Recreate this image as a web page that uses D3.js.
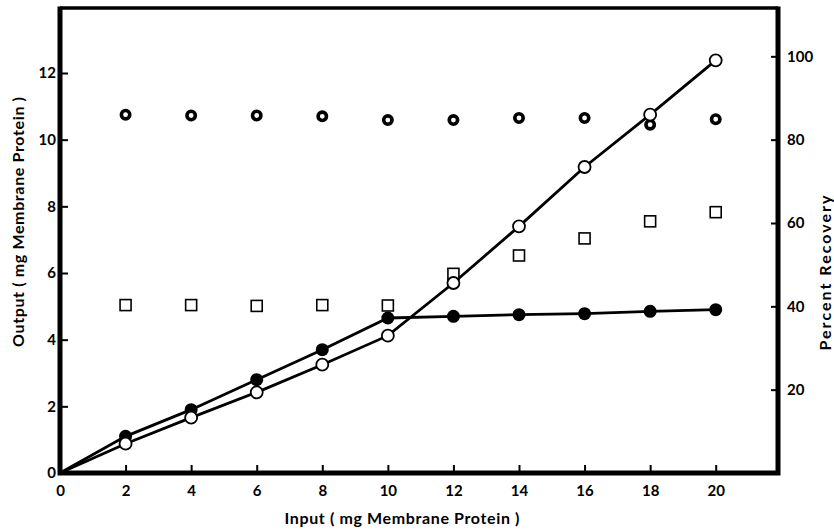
<!DOCTYPE html>
<html>
<head>
<meta charset="utf-8">
<script src="https://cdn.jsdelivr.net/npm/d3@7"></script>
<style>
  body { margin: 0; background: #fff; }
  svg { font-family: Lato, "DejaVu Sans", sans-serif; font-weight: bold; }
</style>
</head>
<body>
<div id="chart"></div>
<script>
// input (mg membrane protein)
var inputs = [0, 2, 4, 6, 8, 10, 12, 14, 16, 18, 20];
// output, filled circles (left axis)
var outputFilled = [0, 1.1, 1.9, 2.8, 3.7, 4.65, 4.7, 4.75, 4.78, 4.85, 4.9];
// output, open circles (left axis)
var outputOpen = [0, 0.88, 1.66, 2.42, 3.25, 4.12, 5.7, 7.4, 9.18, 10.75, 12.38];
// percent recovery, squares (right axis)
var recoverySquares = [null, 40.3, 40.3, 40.1, 40.3, 40.2, 47.8, 52.2, 56.3, 60.4, 62.6];
// percent recovery, ringed dots (right axis)
var recoveryRings = [null, 86, 85.8, 85.8, 85.6, 84.7, 84.7, 85.2, 85.2, 83.6, 84.9];

var xTicks = [0, 2, 4, 6, 8, 10, 12, 14, 16, 18, 20];
var yLeftTicks = [0, 2, 4, 6, 8, 10, 12];
var yRightTicks = [20, 40, 60, 80, 100];

var margin = {top: 8, right: 56, bottom: 57, left: 60},
    width = 834 - margin.left - margin.right,
    height = 530 - margin.top - margin.bottom;

var x = d3.scaleLinear().domain([0, 21.9]).range([0, width]);
var yL = d3.scaleLinear().domain([0, 13.95]).range([height, 0]);
var yR = d3.scaleLinear().domain([0, 111.6]).range([height, 0]);

var svg = d3.select("#chart").append("svg")
    .attr("width", 834)
    .attr("height", 530);

var g = svg.append("g")
    .attr("transform", "translate(" + margin.left + "," + margin.top + ")");

// ticks point inward, labels outside
var xAxis = g.append("g")
    .attr("transform", "translate(0," + height + ")")
    .call(d3.axisBottom(x).tickValues(xTicks).tickSize(-8).tickPadding(12).tickFormat(d3.format("d")));

var yAxisL = g.append("g")
    .call(d3.axisLeft(yL).tickValues(yLeftTicks).tickSize(-8).tickPadding(4).tickFormat(d3.format("d")));

var yAxisR = g.append("g")
    .attr("transform", "translate(" + width + ",0)")
    .call(d3.axisRight(yR).tickValues(yRightTicks).tickSize(-7).tickPadding(9).tickFormat(d3.format("d")));

[xAxis, yAxisL, yAxisR].forEach(function(a) {
    a.select(".domain").remove();
    a.selectAll(".tick line").attr("stroke", "#000").attr("stroke-width", 2);
    a.selectAll(".tick text").attr("fill", "#000").style("font-size", "15px").style("font-family", "Lato, sans-serif").style("font-weight", "bold");
});

// frame
g.append("path")
    .attr("d", "M0,0H" + width)
    .attr("stroke", "#000").attr("stroke-width", 3.5).attr("fill", "none");
g.append("path")
    .attr("d", "M0,-1.5V" + height + "H" + width + "V-1.5")
    .attr("stroke", "#000").attr("stroke-width", 5).attr("fill", "none");

var rows = inputs.map(function(d, i) {
    return {x: d, filled: outputFilled[i], open: outputOpen[i], sq: recoverySquares[i], ring: recoveryRings[i]};
});

var lineFilled = d3.line().x(function(d) { return x(d.x); }).y(function(d) { return yL(d.filled); });
var lineOpen = d3.line().x(function(d) { return x(d.x); }).y(function(d) { return yL(d.open); });

g.append("path").datum(rows).attr("d", lineFilled)
    .attr("fill", "none").attr("stroke", "#000").attr("stroke-width", 2.8);
g.append("path").datum(rows).attr("d", lineOpen)
    .attr("fill", "none").attr("stroke", "#000").attr("stroke-width", 2.8);

var pts = rows.filter(function(d) { return d.x > 0; });

// squares
g.selectAll(".sq").data(pts).enter().append("rect")
    .attr("class", "sq")
    .attr("x", function(d) { return x(d.x) - 5.5; })
    .attr("y", function(d) { return yR(d.sq) - 5.5; })
    .attr("width", 11).attr("height", 11)
    .attr("fill", "#fff").attr("stroke", "#000").attr("stroke-width", 1.6);

// ringed dots
g.selectAll(".ring").data(pts).enter().append("circle")
    .attr("class", "ring")
    .attr("cx", function(d) { return x(d.x); })
    .attr("cy", function(d) { return yR(d.ring); })
    .attr("r", 4.2)
    .attr("fill", "#fff").attr("stroke", "#000").attr("stroke-width", 3.6);

// filled circles
g.selectAll(".fc").data(pts).enter().append("circle")
    .attr("class", "fc")
    .attr("cx", function(d) { return x(d.x); })
    .attr("cy", function(d) { return yL(d.filled); })
    .attr("r", 6.5)
    .attr("fill", "#000");

// open circles
g.selectAll(".oc").data(pts).enter().append("circle")
    .attr("class", "oc")
    .attr("cx", function(d) { return x(d.x); })
    .attr("cy", function(d) { return yL(d.open); })
    .attr("r", 6)
    .attr("fill", "#fff").attr("stroke", "#000").attr("stroke-width", 1.8);

// axis titles (stretched to the reference widths)
svg.append("text")
    .attr("x", 402).attr("y", 524)
    .attr("text-anchor", "middle")
    .attr("textLength", 235).attr("lengthAdjust", "spacing")
    .style("font-size", "16px")
    .text("Input ( mg Membrane Protein )");

svg.append("text")
    .attr("transform", "translate(24,222) rotate(-90)")
    .attr("text-anchor", "middle")
    .attr("textLength", 250).attr("lengthAdjust", "spacing")
    .style("font-size", "16px")
    .text("Output ( mg Membrane Protein )");

svg.append("text")
    .attr("transform", "translate(831,273) rotate(-90)")
    .attr("text-anchor", "middle")
    .attr("textLength", 155).attr("lengthAdjust", "spacing")
    .style("font-size", "16px")
    .text("Percent Recovery");
</script>
</body>
</html>
